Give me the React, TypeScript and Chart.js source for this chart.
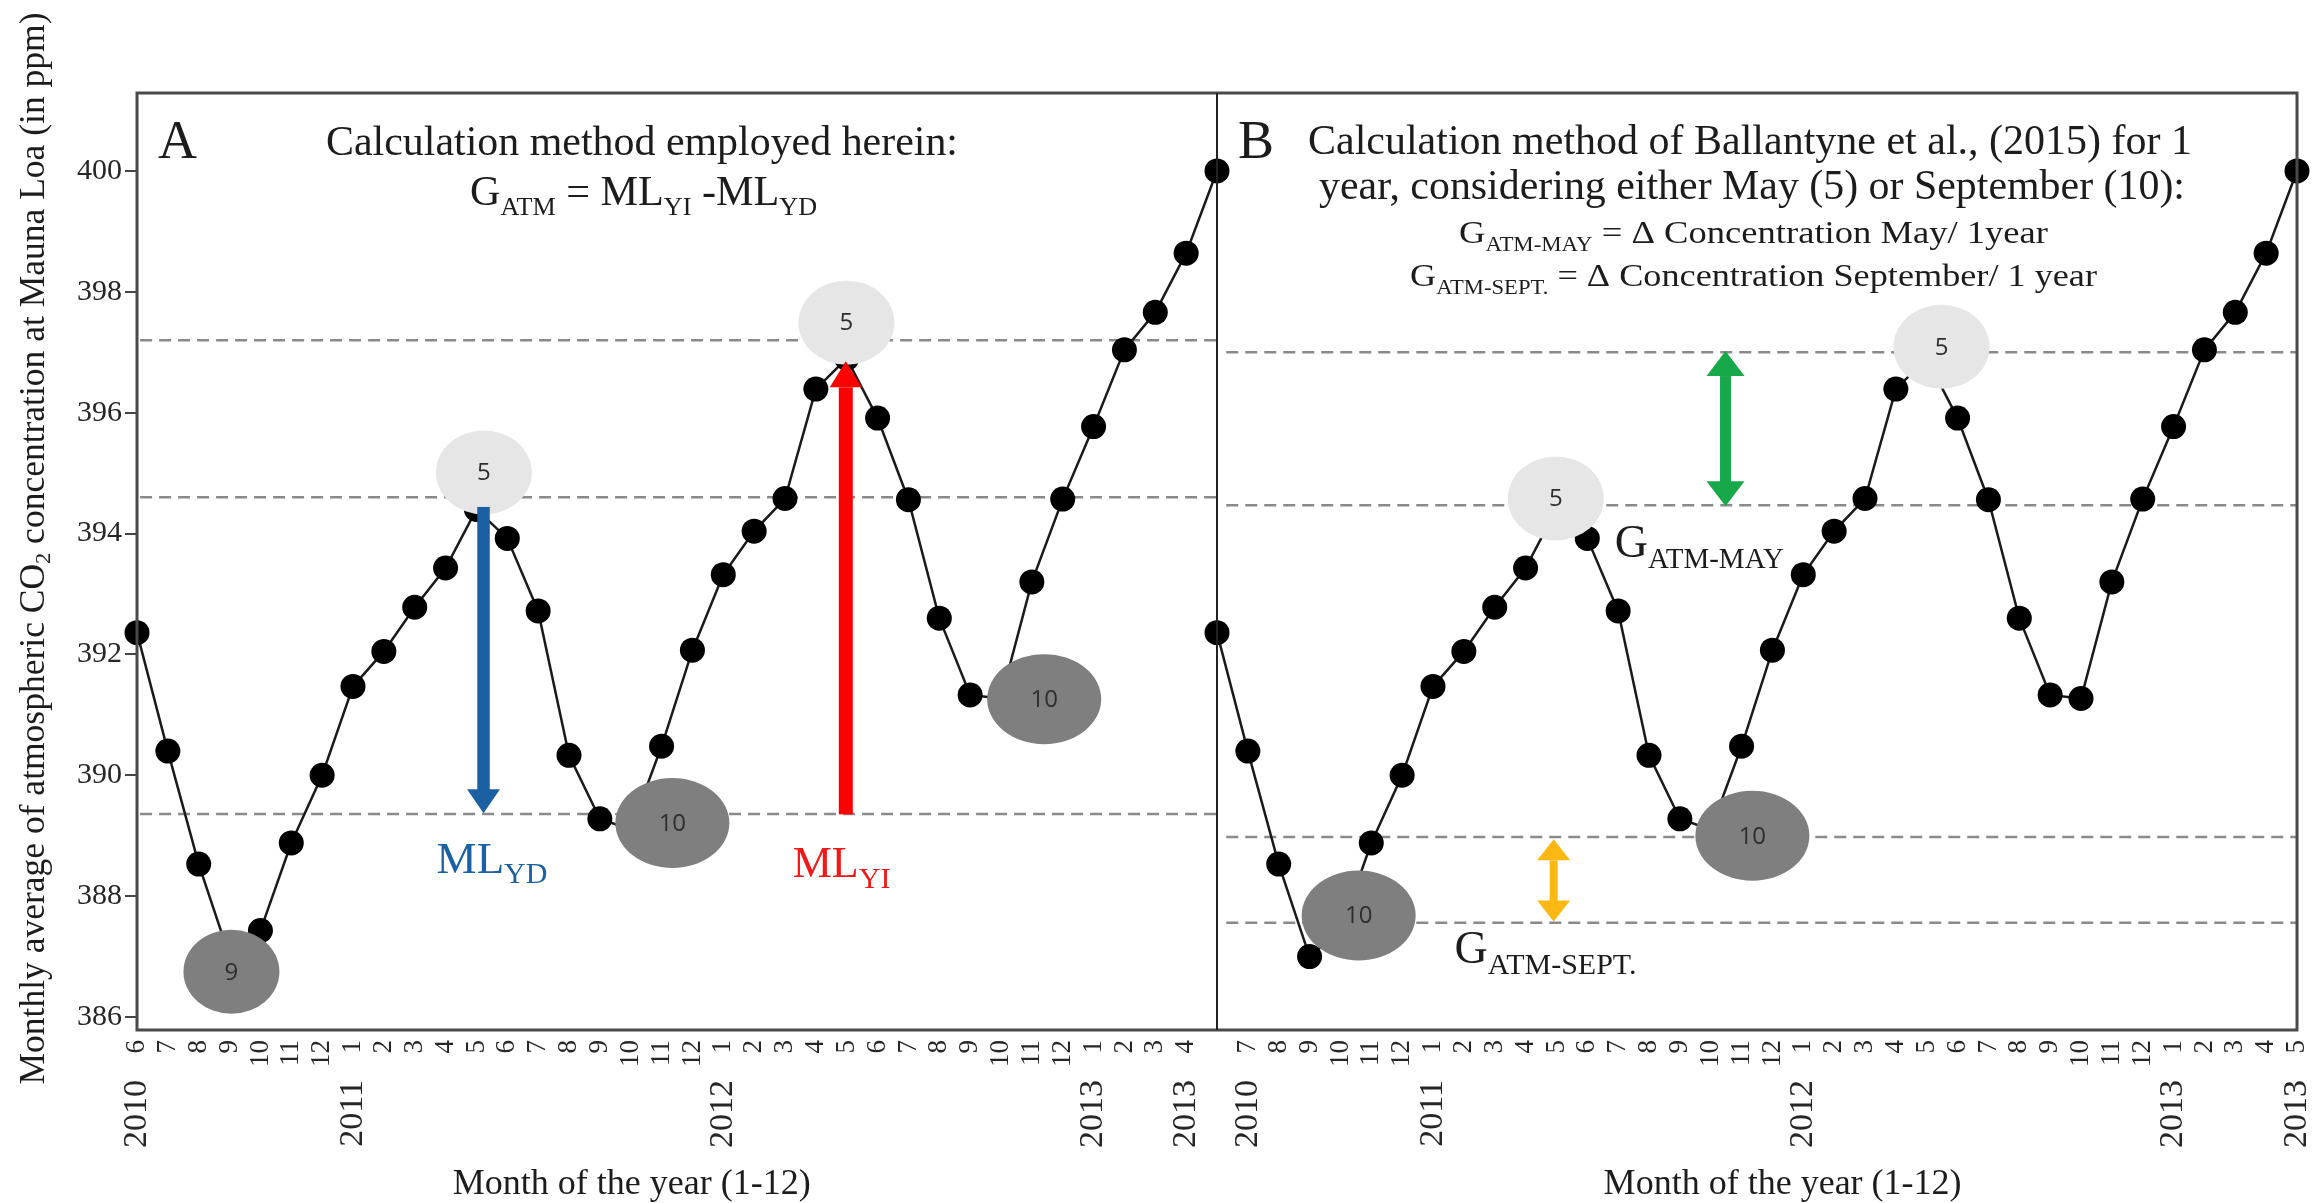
import React, { useEffect, useRef } from 'react';
import { Chart, registerables } from 'chart.js';

Chart.register(...registerables);

const W = 2312;
const H = 1203;
const SERIF = '"Liberation Serif", "Times New Roman", serif';
const SANS = '"Open Sans", "Liberation Sans", sans-serif';
const INK = '#1c1c1c';

// Monthly mean CO2 at Mauna Loa, June 2010 – May 2013 (ppm)
const monthNumbers = [6, 7, 8, 9, 10, 11, 12, 1, 2, 3, 4, 5, 6, 7, 8, 9, 10, 11, 12, 1, 2, 3, 4, 5, 6, 7, 8, 9, 10, 11, 12, 1, 2, 3, 4, 5];
const yearNumbers = [
  2010, 2010, 2010, 2010, 2010, 2010, 2010,
  2011, 2011, 2011, 2011, 2011, 2011, 2011, 2011, 2011, 2011, 2011, 2011,
  2012, 2012, 2012, 2012, 2012, 2012, 2012, 2012, 2012, 2012, 2012, 2012,
  2013, 2013, 2013, 2013, 2013,
];
const co2Ppm = [
  392.36, 390.4, 388.53, 387.0, 387.43, 388.88, 390.0,
  391.47, 392.05, 392.78, 393.43, 394.4, 393.92, 392.72, 390.33, 389.28, 389.1, 390.48, 392.07,
  393.32, 394.04, 394.58, 396.39, 396.9, 395.91, 394.56, 392.6, 391.33, 391.27, 393.2, 394.57,
  395.77, 397.04, 397.66, 398.64, 400.0,
];

// Panel B repeats the series to the right of panel A
const PANEL_B = co2Ppm.length - 1;
const X_MAX = PANEL_B * 2;

const yTickValues = [386, 388, 390, 392, 394, 396, 398, 400];
const Y_MIN = 385.785;
const Y_MAX = 401.29;

// Month positions (within a panel) that carry a year label
const yearTicksA = [0, 7, 19, 31, 34];
const yearTicksB = [1, 7, 19, 31, 35];

// Dashed reference levels (ppm)
const guideLevelsA = [397.2, 394.6, 389.36];
const guideLevelsB = [397.0, 394.47, 388.98, 387.56];

// Highlighted months: panel, month position, level (ppm), label
const markPanel = ['A', 'A', 'A', 'A', 'A', 'B', 'B', 'B', 'B'];
const markIndex = [3.06, 11.24, 17.35, 22.99, 29.4, 4.59, 10.98, 17.35, 23.48];
const markLevel = [386.75, 395.01, 389.21, 397.49, 391.26, 387.68, 394.58, 389.0, 397.09];
const markLabel = ['9', '5', '10', '5', '10', '10', '5', '10', '5'];

// Arrows: panel, month position, start level, end level
const arrowPanel = ['A', 'A', 'B', 'B'];
const arrowIndex = [11.23, 22.97, 16.48, 10.91];
const arrowFrom = [394.44, 389.37, 394.45, 387.58];
const arrowTo = [389.37, 396.85, 397.02, 388.94];
const arrowStyle = [
  { color: '#1c60a4', shaft: 12.5, headW: 33, headL: 24, both: false },
  { color: '#ff0000', shaft: 14, headW: 32, headL: 26, both: false },
  { color: '#17a84a', shaft: 11, headW: 38, headL: 25, both: true },
  { color: '#fbb712', shaft: 8, headW: 33, headL: 21, both: true },
];

// Annotation labels: panel, month position, baseline level, main text, subscript
const notePanel = ['A', 'A', 'B', 'B'];
const noteIndex = [9.71, 21.25, 12.89, 7.7];
const noteLevel = [388.38, 388.32, 393.61, 386.89];
const noteMain = ['ML', 'ML', 'G', 'G'];
const noteSub = ['YD', 'YI', 'ATM-MAY', 'ATM-SEPT.'];
const noteStyle = [
  { color: '#1c60a4', size: 45, sub: 30, dy: 10 },
  { color: '#f01818', size: 44, sub: 30, dy: 11 },
  { color: INK, size: 46, sub: 29, dy: 11 },
  { color: INK, size: 46, sub: 30, dy: 11 },
];

const panelShift = (p: string) => (p === 'B' ? PANEL_B : 0);

type Seg = { t: string; size: number; dy?: number };

function drawRich(
  ctx: CanvasRenderingContext2D,
  segs: Seg[],
  x: number,
  y: number,
  opts: { align?: 'left' | 'center'; color: string; width?: number; family?: string }
) {
  const fam = opts.family || SERIF;
  const widths = segs.map((s) => {
    ctx.font = `${s.size}px ${fam}`;
    return ctx.measureText(s.t).width;
  });
  const total = widths.reduce((a, b) => a + b, 0);
  const sx = opts.width ? opts.width / total : 1;
  ctx.save();
  ctx.translate(x, y);
  ctx.scale(sx, 1);
  let cx = opts.align === 'center' ? -total / 2 : 0;
  ctx.fillStyle = opts.color;
  ctx.textAlign = 'left';
  ctx.textBaseline = 'alphabetic';
  segs.forEach((s, i) => {
    ctx.font = `${s.size}px ${fam}`;
    ctx.fillText(s.t, cx, s.dy || 0);
    cx += widths[i];
  });
  ctx.restore();
}

function triangle(ctx: CanvasRenderingContext2D, x: number, tipY: number, w: number, l: number, back: number) {
  ctx.beginPath();
  ctx.moveTo(x, tipY);
  ctx.lineTo(x - w / 2, tipY + back * l);
  ctx.lineTo(x + w / 2, tipY + back * l);
  ctx.closePath();
  ctx.fill();
}

const overlay = {
  id: 'overlay',
  beforeDatasetsDraw(chart: any) {
    const { ctx, scales } = chart;
    const x = scales.x;
    const y = scales.y;
    ctx.save();
    ctx.strokeStyle = '#8a8a8a';
    ctx.lineWidth = 2.5;
    ctx.setLineDash([12, 7]);
    const hline = (a: number, b: number, v: number) => {
      const py = y.getPixelForValue(v);
      ctx.beginPath();
      ctx.moveTo(x.getPixelForValue(a), py);
      ctx.lineTo(x.getPixelForValue(b), py);
      ctx.stroke();
    };
    guideLevelsA.forEach((v) => hline(0.1, PANEL_B, v));
    guideLevelsB.forEach((v) => hline(PANEL_B + 0.3, X_MAX, v));
    ctx.restore();
  },
  afterDatasetsDraw(chart: any) {
    const { ctx, scales, chartArea: a } = chart;
    const x = scales.x;
    const y = scales.y;
    ctx.save();

    // highlighted months
    markLabel.forEach((label, i) => {
      const cx = x.getPixelForValue(markIndex[i] + panelShift(markPanel[i]));
      const cy = y.getPixelForValue(markLevel[i]);
      const wide = label.length > 1;
      const light = label === '5';
      ctx.fillStyle = light ? '#e6e6e6' : '#7f7f7f';
      ctx.beginPath();
      ctx.ellipse(cx, cy, wide ? 57 : 48, wide ? 45 : 42, 0, 0, Math.PI * 2);
      ctx.fill();
      ctx.fillStyle = '#2e2e2e';
      ctx.font = `24px ${SANS}`;
      ctx.textAlign = 'center';
      ctx.textBaseline = 'middle';
      ctx.fillText(label, cx, cy + 1);
    });

    // arrows
    arrowStyle.forEach((s, i) => {
      const px = x.getPixelForValue(arrowIndex[i] + panelShift(arrowPanel[i]));
      const y0 = y.getPixelForValue(arrowFrom[i]);
      const y1 = y.getPixelForValue(arrowTo[i]);
      const dir = Math.sign(y1 - y0);
      const s0 = s.both ? y0 + dir * s.headL : y0;
      const s1 = y1 - dir * s.headL;
      ctx.fillStyle = s.color;
      ctx.fillRect(px - s.shaft / 2, Math.min(s0, s1), s.shaft, Math.abs(s1 - s0) + 1);
      triangle(ctx, px, y1, s.headW, s.headL, -dir);
      if (s.both) triangle(ctx, px, y0, s.headW, s.headL, dir);
    });

    // annotation labels
    noteStyle.forEach((s, i) => {
      const px = x.getPixelForValue(noteIndex[i] + panelShift(notePanel[i]));
      const py = y.getPixelForValue(noteLevel[i]);
      drawRich(
        ctx,
        [
          { t: noteMain[i], size: s.size },
          { t: noteSub[i], size: s.sub, dy: s.dy },
        ],
        px,
        py,
        { color: s.color }
      );
    });

    // panel frames
    ctx.strokeStyle = '#4a4a4a';
    ctx.lineWidth = 3;
    ctx.strokeRect(a.left, a.top, a.right - a.left, a.bottom - a.top);
    const mid = x.getPixelForValue(PANEL_B);
    ctx.strokeStyle = '#222';
    ctx.lineWidth = 2;
    ctx.beginPath();
    ctx.moveTo(mid, a.top);
    ctx.lineTo(mid, a.bottom);
    ctx.stroke();
    ctx.restore();
  },
  afterDraw(chart: any) {
    const { ctx, scales, chartArea: a } = chart;
    const x = scales.x;
    const bLeft = x.getPixelForValue(PANEL_B);
    ctx.save();

    // panel A heading
    drawRich(ctx, [{ t: 'A', size: 54 }], a.left + 21, a.top + 65, { color: INK });
    drawRich(ctx, [{ t: 'Calculation method employed herein:', size: 42 }], a.left + 189, a.top + 62, {
      color: INK,
      width: 632,
    });
    drawRich(
      ctx,
      [
        { t: 'G', size: 42 },
        { t: 'ATM', size: 26, dy: 10 },
        { t: ' = ML', size: 42 },
        { t: 'YI', size: 26, dy: 10 },
        { t: ' -ML', size: 42 },
        { t: 'YD', size: 26, dy: 10 },
      ],
      a.left + 333,
      a.top + 112,
      { color: INK, width: 347 }
    );

    // panel B heading
    drawRich(ctx, [{ t: 'B', size: 54 }], bLeft + 21, a.top + 65, { color: INK });
    drawRich(ctx, [{ t: 'Calculation method of Ballantyne et al., (2015) for 1', size: 42 }], bLeft + 91, a.top + 61, {
      color: INK,
      width: 884,
    });
    drawRich(ctx, [{ t: 'year, considering either May (5) or September (10):', size: 42 }], bLeft + 102, a.top + 106, {
      color: INK,
      width: 866,
    });
    drawRich(
      ctx,
      [
        { t: 'G', size: 32 },
        { t: 'ATM-MAY', size: 20, dy: 8 },
        { t: ' = \u0394 Concentration May/ 1year', size: 32 },
      ],
      bLeft + 242,
      a.top + 150,
      { color: INK, width: 589 }
    );
    drawRich(
      ctx,
      [
        { t: 'G', size: 32 },
        { t: 'ATM-SEPT.', size: 20, dy: 8 },
        { t: ' = \u0394 Concentration September/ 1 year', size: 32 },
      ],
      bLeft + 193,
      a.top + 193,
      { color: INK, width: 687 }
    );

    // axis titles
    drawRich(ctx, [{ t: 'Month of the year (1-12)', size: 36 }], x.getPixelForValue(16.03), 1194, {
      color: INK,
      align: 'center',
      width: 358,
    });
    drawRich(ctx, [{ t: 'Month of the year (1-12)', size: 36 }], x.getPixelForValue(PANEL_B + 18.33), 1194, {
      color: INK,
      align: 'center',
      width: 358,
    });

    ctx.save();
    ctx.translate(44, (a.top + a.bottom) / 2 - 13);
    ctx.rotate(-Math.PI / 2);
    drawRich(
      ctx,
      [
        { t: 'Monthly average of atmospheric CO', size: 35 },
        { t: '2', size: 22, dy: 6 },
        { t: ' concentration at Mauna Loa (in ppm)', size: 35 },
      ],
      0,
      0,
      { color: INK, align: 'center', width: 1072 }
    );
    ctx.restore();
    ctx.restore();
  },
};

const monthTickValues: number[] = [];
for (let i = 0; i <= X_MAX; i++) if (i !== PANEL_B) monthTickValues.push(i);
const yearTickValues = [...yearTicksA, ...yearTicksB.map((v) => v + PANEL_B)];

const inPanel = (v: number) => (v < PANEL_B ? v : v - PANEL_B);

export default function App() {
  const ref = useRef<HTMLCanvasElement>(null);

  useEffect(() => {
    const canvas = ref.current;
    if (!canvas) return;
    const pointStyle = {
      borderColor: '#1a1a1a',
      borderWidth: 2.5,
      pointRadius: 12.5,
      pointHoverRadius: 12.5,
      pointBackgroundColor: '#000',
      pointBorderWidth: 0,
      tension: 0,
      clip: false as const,
    };
    const chart = new Chart(canvas, {
      type: 'line',
      data: {
        datasets: [
          { label: 'A', data: co2Ppm.map((v, i) => ({ x: i, y: v })), ...pointStyle },
          { label: 'B', data: co2Ppm.map((v, i) => ({ x: i + PANEL_B, y: v })), ...pointStyle },
        ],
      },
      options: {
        animation: false,
        responsive: false,
        maintainAspectRatio: false,
        devicePixelRatio: 1,
        events: [],
        layout: { autoPadding: false, padding: { left: 0, right: 15, top: 93, bottom: 0 } },
        plugins: { legend: { display: false }, tooltip: { enabled: false }, title: { display: false } },
        scales: {
          x: {
            type: 'linear',
            position: 'bottom',
            weight: 0,
            min: 0,
            max: X_MAX,
            bounds: 'data',
            grid: { display: false, drawTicks: false },
            border: { display: false },
            afterBuildTicks: (axis: any) => {
              axis.ticks = monthTickValues.map((v) => ({ value: v }));
            },
            afterFit: (axis: any) => {
              axis.height = 50;
              axis.paddingLeft = 0;
              axis.paddingRight = 0;
            },
            ticks: {
              autoSkip: false,
              minRotation: 90,
              maxRotation: 90,
              padding: 10,
              color: '#262626',
              font: { family: SERIF, size: 27 },
              callback: (v: any) => String(monthNumbers[inPanel(Number(v))]),
            },
          },
          x2: {
            type: 'linear',
            position: 'bottom',
            weight: 1,
            min: 0,
            max: X_MAX,
            bounds: 'data',
            grid: { display: false, drawTicks: false },
            border: { display: false },
            afterBuildTicks: (axis: any) => {
              axis.ticks = yearTickValues.map((v) => ({ value: v }));
            },
            afterFit: (axis: any) => {
              axis.height = H - 1030 - 50;
              axis.paddingLeft = 0;
              axis.paddingRight = 0;
            },
            ticks: {
              autoSkip: false,
              minRotation: 90,
              maxRotation: 90,
              padding: 0,
              color: '#262626',
              font: { family: SERIF, size: 34 },
              callback: (v: any) => String(yearNumbers[inPanel(Number(v))]),
            },
          },
          y: {
            type: 'linear',
            position: 'left',
            min: Y_MIN,
            max: Y_MAX,
            bounds: 'data',
            afterBuildTicks: (axis: any) => {
              axis.ticks = yTickValues.map((v) => ({ value: v }));
            },
            afterFit: (axis: any) => {
              axis.width = 137;
              axis.paddingTop = 0;
              axis.paddingBottom = 0;
            },
            grid: { display: true, drawOnChartArea: false, drawTicks: true, tickLength: 12, color: '#444', lineWidth: 2 },
            border: { display: false },
            ticks: {
              padding: 3,
              color: '#262626',
              font: { family: SERIF, size: 30 },
              callback: (v: any) => String(v),
            },
          },
        },
      },
      plugins: [overlay],
    } as any);
    return () => chart.destroy();
  }, []);

  return (
    <div style={{ position: 'fixed', left: 0, top: 0, width: W, height: H, background: '#fff' }}>
      <canvas ref={ref} width={W} height={H} style={{ display: 'block', width: W, height: H }} />
    </div>
  );
}
